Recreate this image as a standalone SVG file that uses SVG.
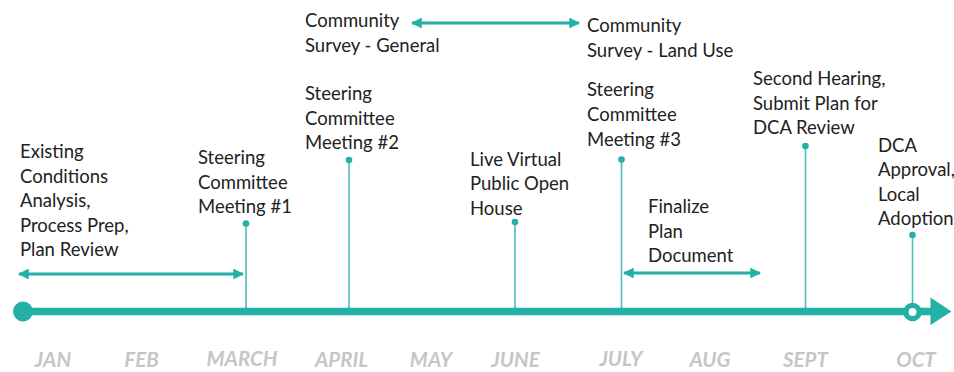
<svg xmlns="http://www.w3.org/2000/svg" width="954" height="372" viewBox="0 0 954 372">
<defs>
<style>
.t{font-family:Lato,"Liberation Sans",sans-serif;font-size:18.5px;fill:#222222}
.m{font-family:Lato,"Liberation Sans",sans-serif;font-size:20.5px;font-weight:bold;font-style:italic;fill:#c4c6c8;text-anchor:middle}
.v{stroke:#4dbdb4;stroke-width:1.6;fill:none}
.d{fill:#23b0a6}
.a{stroke:#23b0a6;stroke-width:3;fill:none}
</style>
<marker id="ah" viewBox="0 0 10 10" refX="9" refY="5" markerWidth="3.6" markerHeight="3.6" orient="auto-start-reverse" markerUnits="strokeWidth">
<path d="M0,0 L10,5 L0,10 z" fill="#23b0a6"/>
</marker>
</defs>
<rect width="954" height="372" fill="#ffffff"/>

<g id="connectors">
<line class="a" x1="19" y1="274" x2="243" y2="274" marker-start="url(#ah)" marker-end="url(#ah)"/>
<line class="a" x1="412" y1="23" x2="579" y2="23" marker-start="url(#ah)" marker-end="url(#ah)"/>
<line class="a" x1="624" y1="273" x2="760" y2="273" marker-start="url(#ah)" marker-end="url(#ah)"/>
<line class="v" x1="246" y1="223" x2="246" y2="308"/>
<line class="v" x1="349" y1="160" x2="349" y2="308"/>
<line class="v" x1="515" y1="222" x2="515" y2="308"/>
<line class="v" x1="621.5" y1="159" x2="621.5" y2="308"/>
<line class="v" x1="805.5" y1="146" x2="805.5" y2="308"/>
<line class="v" x1="912.5" y1="235" x2="912.5" y2="306"/>
<circle class="d" cx="246" cy="223.5" r="3.3"/>
<circle class="d" cx="349" cy="160" r="3.3"/>
<circle class="d" cx="515" cy="222" r="3.3"/>
<circle class="d" cx="621.5" cy="159.5" r="3.3"/>
<circle class="d" cx="805.5" cy="146" r="3.3"/>
<circle class="d" cx="912.5" cy="235" r="3.3"/>
</g>

<g id="timeline">
<line x1="23" y1="311.5" x2="932" y2="311.5" stroke="#23b0a6" stroke-width="7.5"/>
<circle cx="23" cy="311.5" r="10" fill="#23b0a6"/>
<circle cx="912.5" cy="312" r="6.6" fill="#ffffff" stroke="#23b0a6" stroke-width="5.4"/>
<polygon points="930.5,297.5 951.5,311.5 930.5,325" fill="#23b0a6"/>
</g>

<g id="existing-conditions">
<text class="t" x="20" y="158">Existing</text>
<text class="t" x="20" y="182.5">Conditions</text>
<text class="t" x="20" y="207">Analysis,</text>
<text class="t" x="20" y="231.5">Process Prep,</text>
<text class="t" x="20" y="256">Plan Review</text>
</g>
<g id="steering-1">
<text class="t" x="198" y="164">Steering</text>
<text class="t" x="198" y="188.5">Committee</text>
<text class="t" x="198" y="213">Meeting #1</text>
</g>
<g id="survey-general">
<text class="t" x="305" y="27">Community</text>
<text class="t" x="305" y="51.5">Survey - General</text>
</g>
<g id="steering-2">
<text class="t" x="305" y="100">Steering</text>
<text class="t" x="305" y="124.5">Committee</text>
<text class="t" x="305" y="149">Meeting #2</text>
</g>
<g id="open-house">
<text class="t" x="470" y="166">Live Virtual</text>
<text class="t" x="470" y="190">Public Open</text>
<text class="t" x="470" y="214.5">House</text>
</g>
<g id="survey-land-use">
<text class="t" x="587" y="32">Community</text>
<text class="t" x="587" y="56.5">Survey - Land Use</text>
</g>
<g id="steering-3">
<text class="t" x="587" y="96">Steering</text>
<text class="t" x="587" y="121">Committee</text>
<text class="t" x="587" y="146">Meeting #3</text>
</g>
<g id="finalize-plan">
<text class="t" x="648" y="212.5">Finalize</text>
<text class="t" x="648" y="237.5">Plan</text>
<text class="t" x="648" y="262">Document</text>
</g>
<g id="second-hearing">
<text class="t" x="753" y="85">Second Hearing,</text>
<text class="t" x="753" y="109.5">Submit Plan for</text>
<text class="t" x="753" y="134">DCA Review</text>
</g>
<g id="dca-approval">
<text class="t" x="878" y="151.5">DCA</text>
<text class="t" x="878" y="176">Approval,</text>
<text class="t" x="878" y="200.5">Local</text>
<text class="t" x="878" y="225">Adoption</text>
</g>

<g id="months">
<text class="m" x="53" y="367">JAN</text>
<text class="m" x="141.5" y="367">FEB</text>
<text class="m" x="242" y="366">MARCH</text>
<text class="m" x="341.5" y="367">APRIL</text>
<text class="m" x="431" y="367">MAY</text>
<text class="m" x="515.5" y="367">JUNE</text>
<text class="m" x="621" y="366">JULY</text>
<text class="m" x="710" y="366.5">AUG</text>
<text class="m" x="805.5" y="366.5">SEPT</text>
<text class="m" x="916" y="367">OCT</text>
</g>
</svg>
